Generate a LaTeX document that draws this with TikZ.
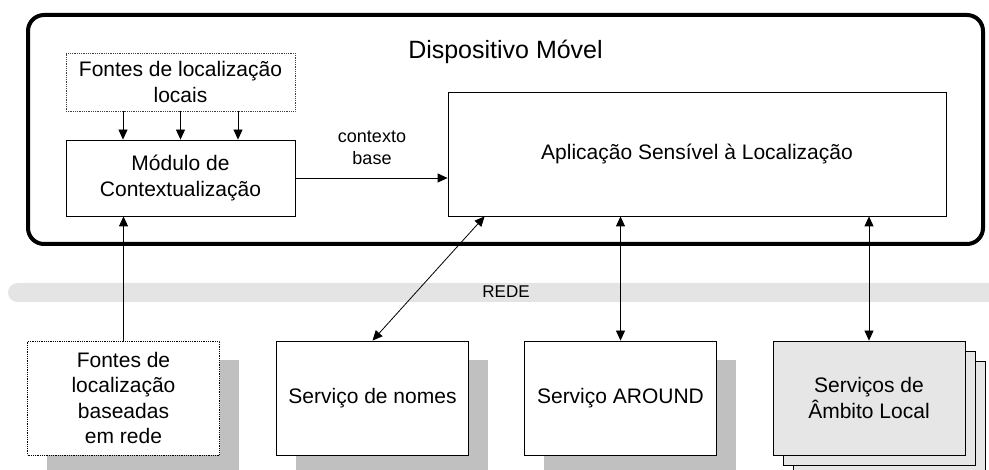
\documentclass[tikz,border=0pt]{standalone}
\usepackage{fontspec}
\setmainfont{Liberation Sans}
\usetikzlibrary{arrows.meta,calc,shadows}

\definecolor{sombra}{RGB}{192,192,192}
\definecolor{faixa}{RGB}{228,228,228}
\definecolor{servlocal}{RGB}{230,230,230}
\newcommand\fsmain{\fontsize{21}{25.5}\selectfont}
\newcommand\fstitle{\fontsize{25}{30}\selectfont}
\newcommand\fssmall{\fontsize{18}{22.5}\selectfont}
\newcommand\fsrede{\fontsize{17}{20}\selectfont}

\begin{document}
\begin{tikzpicture}[x=1pt,y=-1pt,
  box/.style={draw=black,line width=0.8pt,fill=white,align=center,font=\fsmain,inner sep=0pt},
  dotbox/.style={box,draw=black!75,densely dotted},
  svcbox/.style={box,minimum width=192pt,minimum height=114pt},
  dropsh/.style={drop shadow={shadow xshift=19pt,shadow yshift=-19pt,fill=sombra,opacity=1}},
  conn/.style={line width=0.8pt,-{Triangle[length=10pt,width=9pt]}},
  biconn/.style={line width=0.8pt,{Triangle[length=10pt,width=9pt]}-{Triangle[length=10pt,width=9pt]}}
]
\useasboundingbox (0,0) rectangle (989,470);

% network band
\begin{scope}
  \clip (0,0) rectangle (989,470);
  \fill[faixa,rounded corners=9.5pt] (8,283) rectangle (1010,302);
\end{scope}
\node[font=\fsrede] (rede) at (506,292) {REDE};

% mobile device frame
\node[draw=black,line width=4pt,rounded corners=16pt,minimum width=955pt,minimum height=229pt,inner sep=0pt] (movel) at (505.5,129.5) {};
\node[font=\fstitle] (titulo) at (505.5,52) {Dispositivo Móvel};

% components inside the device
\node[dotbox,minimum width=229pt,minimum height=58pt] (locais) at (180.5,82) {Fontes de localização\\locais};
\node[box,minimum width=229pt,minimum height=76pt] (modulo) at (180.5,178) {Módulo de\\Contextualização};
\node[box,minimum width=498pt,minimum height=124pt] (app) at (697,154) {Aplicação Sensível à Localização};
\node[font=\fssmall,align=center] (ctxlabel) at (372,148) {contexto\\base};

% services on the network
\node[dotbox,svcbox,dropsh] (fontesrede) at (123.5,398) {Fontes de\\localização\\baseadas\\em rede};
\node[svcbox,dropsh] (nomes) at (372.5,398) {Serviço de nomes};
\node[svcbox,dropsh] (around) at (620.5,398) {Serviço AROUND};
\node[svcbox,fill=servlocal,double copy shadow={shadow xshift=10pt,shadow yshift=-10pt}] (ambito) at (869,398) {Serviços de\\Âmbito Local};

% connectors
\foreach \dx in {-57.5,0,57.5}
  \draw[conn] ([xshift=\dx pt]locais.south) -- ([xshift=\dx pt]modulo.north);
\draw[conn] (modulo.east) -- (modulo.east -| app.west);
\draw[conn] (fontesrede.north) -- (fontesrede.north |- modulo.south);
\draw[biconn] (nomes.north) -- ([xshift=37pt]app.south west);
\draw[biconn] (around.north) -- (around.north |- app.south);
\draw[biconn] (ambito.north) -- (ambito.north |- app.south);
\end{tikzpicture}
\end{document}
